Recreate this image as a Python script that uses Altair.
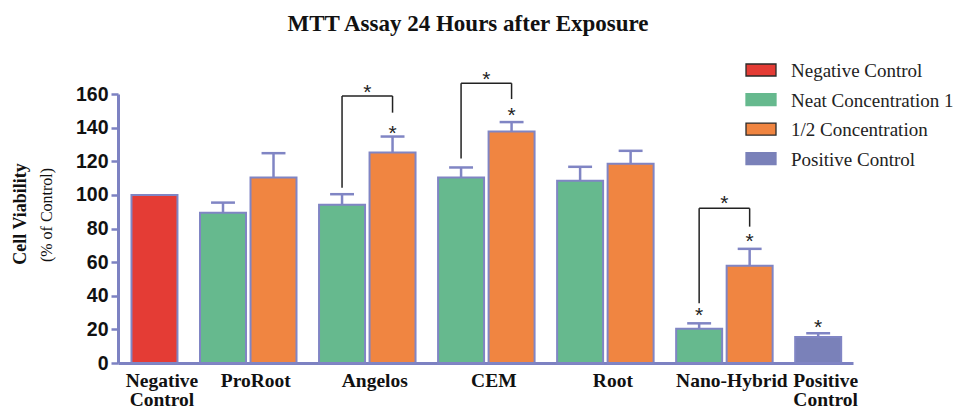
import altair as alt
import pandas as pd

# ---------------- data ----------------
title_text = "MTT Assay 24 Hours after Exposure"
y_title_main = "Cell Viability"
y_title_sub = "(% of Control)"

groups = ["Negative Control", "ProRoot", "Angelos", "CEM", "Root", "Nano-Hybrid", "Positive Control"]
group_labels = ["Negative|Control", "ProRoot", "Angelos", "CEM", "Root", "Nano-Hybrid", "Positive|Control"]

series_names = ["Negative Control", "Neat Concentration 1", "1/2 Concentration", "Positive Control"]
series_colors = ["#e43c35", "#66b98e", "#f08541", "#7a81b9"]
legend_strokes = ["#2a2a2a", "#66b98e", "#2a2a2a", "#7a81b9"]

bar_group = ["Negative Control", "ProRoot", "ProRoot", "Angelos", "Angelos", "CEM", "CEM",
             "Root", "Root", "Nano-Hybrid", "Nano-Hybrid", "Positive Control"]
bar_series = ["Negative Control",
              "Neat Concentration 1", "1/2 Concentration",
              "Neat Concentration 1", "1/2 Concentration",
              "Neat Concentration 1", "1/2 Concentration",
              "Neat Concentration 1", "1/2 Concentration",
              "Neat Concentration 1", "1/2 Concentration",
              "Positive Control"]
bar_mean = [100.0, 89.3, 110.3, 94.1, 125.2, 110.3, 137.7, 108.4, 118.5, 20.4, 57.8, 15.5]
bar_sem = [0.0, 6.1, 14.5, 6.3, 9.5, 6.0, 5.6, 8.3, 7.7, 3.2, 10.1, 2.2]

# significance brackets (neat vs 1/2 within group)
bracket_group = ["Angelos", "CEM", "Nano-Hybrid"]
bracket_left_y = [104.3, 121.7, 35.5]
bracket_right_y = [148.9, 157.0, 81.1]
bracket_top_y = [158.8, 166.4, 92.0]
bracket_star_y = [164.3, 171.9, 98.0]

# stars above single bars
star_group = ["Angelos", "CEM", "Nano-Hybrid", "Nano-Hybrid", "Positive Control"]
star_series = ["1/2 Concentration", "1/2 Concentration", "Neat Concentration 1",
               "1/2 Concentration", "Positive Control"]
star_y = [140.0, 150.5, 31.5, 75.5, 24.6]

y_ticks = [0, 20, 40, 60, 80, 100, 120, 140, 160]

# ---------------- layout (bar width = 1 unit) ----------------
LEAD = 0.293
PAIR_GAP = 0.098
GROUP_GAP = 0.49
X_MAX = 15.98
CAP = 0.26

lefts = []
for i, g in enumerate(bar_group):
    if i == 0:
        lefts.append(LEAD)
    elif bar_group[i - 1] == g:
        lefts.append(lefts[-1] + 1 + PAIR_GAP)
    else:
        lefts.append(lefts[-1] + 1 + GROUP_GAP)

bars = pd.DataFrame({
    "group": bar_group,
    "series": bar_series,
    "mean": bar_mean,
    "sem": bar_sem,
    "left": lefts,
})
bars["right"] = bars["left"] + 1
bars["center"] = bars["left"] + 0.5
bars["top"] = bars["mean"] + bars["sem"]
bars["cap_l"] = bars["center"] - CAP
bars["cap_r"] = bars["center"] + CAP

centers = {(g, s): c for g, s, c in zip(bar_group, bar_series, bars["center"])}
group_center = [float(bars.loc[bars["group"] == g, "center"].mean()) for g in groups]

errs = bars[bars["sem"] > 0]

seg_rows = []
star_rows = []
for g, ly, ry, ty, sy in zip(bracket_group, bracket_left_y, bracket_right_y, bracket_top_y, bracket_star_y):
    xl = centers[(g, "Neat Concentration 1")]
    xr = centers[(g, "1/2 Concentration")]
    seg_rows.append({"x": xl, "x2": xl, "y": ly, "y2": ty})
    seg_rows.append({"x": xl, "x2": xr, "y": ty, "y2": ty})
    seg_rows.append({"x": xr, "x2": xr, "y": ry, "y2": ty})
    star_rows.append({"x": (xl + xr) / 2, "y": sy})
for g, s, y in zip(star_group, star_series, star_y):
    star_rows.append({"x": centers[(g, s)], "y": y})
segs = pd.DataFrame(seg_rows)
stars = pd.DataFrame(star_rows)

legend_df = pd.DataFrame({"series": series_names})

# x-axis label expression (multi-line)
expr = "''"
for i in range(len(groups) - 1, -1, -1):
    parts = ", ".join("'" + p + "'" for p in group_labels[i].split("|"))
    if i == len(groups) - 1:
        expr = "[" + parts + "]"
    else:
        thr = (group_center[i] + group_center[i + 1]) / 2
        expr = f"datum.value < {thr:.4f} ? [{parts}] : ({expr})"

AXIS_COL = "#7d82c2"
BAR_STROKE = "#8085c4"
RECT_PATH = "M-1.25,-0.5L1.25,-0.5L1.25,0.5L-1.25,0.5Z"

x_scale = alt.Scale(domain=[0, X_MAX], nice=False, zero=False)
y_scale = alt.Scale(domain=[0, 160], nice=False)

x_axis = alt.Axis(values=group_center, labelExpr=expr, title=None, grid=False, ticks=False,
                  tickSize=0, domainColor=AXIS_COL, domainWidth=3,
                  labelFont="Liberation Serif", labelFontWeight="bold", labelFontSize=19.5,
                  labelColor="#111111", labelPadding=8, labelLineHeight=19.5, labelOffset=7,
                  labelOverlap=False, labelFlush=False)
y_axis = alt.Axis(values=y_ticks, title=None, grid=False, domainColor=AXIS_COL, domainWidth=3,
                  tickColor=AXIS_COL, tickWidth=2.5, tickSize=7,
                  labelFont="Liberation Sans", labelFontWeight="bold", labelFontSize=19.5,
                  labelColor="#111111", labelPadding=3, labelOverlap=False, labelFlush=False)

bar_layer = alt.Chart(bars).mark_rect(stroke=BAR_STROKE, strokeWidth=2).encode(
    x=alt.X("left:Q", scale=x_scale, axis=x_axis),
    x2="right:Q",
    y=alt.Y("mean:Q", scale=y_scale, axis=y_axis),
    y2=alt.datum(0),
    color=alt.Color("series:N", scale=alt.Scale(domain=series_names, range=series_colors), legend=None),
)

err_stem = alt.Chart(errs).mark_rule(color=BAR_STROKE, strokeWidth=2.5).encode(
    x="center:Q",
    y=alt.Y("mean:Q", scale=y_scale, axis=None), y2="top:Q")
err_cap = alt.Chart(errs).mark_rule(color=BAR_STROKE, strokeWidth=2.5).encode(
    x="cap_l:Q", x2="cap_r:Q",
    y=alt.Y("top:Q", scale=y_scale, axis=None))

bracket_layer = alt.Chart(segs).mark_rule(color="#222222", strokeWidth=1.5).encode(
    x="x:Q", x2="x2:Q",
    y=alt.Y("y:Q", scale=y_scale, axis=None), y2="y2:Q")

star_layer = alt.Chart(stars).mark_text(text="*", font="Liberation Sans", fontSize=21,
                                        baseline="alphabetic", dy=12, color="#222222").encode(
    x="x:Q",
    y=alt.Y("y:Q", scale=y_scale, axis=None))

# legend drawn as marks (symbols with per-entry borders)
legend_y = alt.Y("series:N", scale=alt.Scale(type="point", domain=series_names, range=[-24, 64.7], padding=0),
                 axis=None)
legend_sym = alt.Chart(legend_df).mark_point(shape=RECT_PATH, filled=True, size=576, strokeWidth=1.3,
                                             opacity=1).encode(
    x=alt.value(643),
    y=legend_y,
    fill=alt.Fill("series:N", scale=alt.Scale(domain=series_names, range=series_colors), legend=None),
    stroke=alt.Stroke("series:N", scale=alt.Scale(domain=series_names, range=legend_strokes), legend=None),
)
legend_txt = alt.Chart(legend_df).mark_text(align="left", baseline="middle", font="Liberation Serif",
                                            fontSize=19, color="#222222", dy=1).encode(
    x=alt.value(673), y=legend_y, text="series:N")

title_layer = alt.Chart(pd.DataFrame({"t": [title_text]})).mark_text(
    font="Liberation Serif", fontWeight="bold", fontSize=23, align="center", baseline="alphabetic",
    color="#111111").encode(text="t:N", x=alt.value(350), y=alt.value(-63))

ytitle1 = alt.Chart(pd.DataFrame({"t": [y_title_main]})).mark_text(
    font="Liberation Serif", fontWeight="bold", fontSize=18, angle=270,
    align="center", baseline="middle", color="#111111").encode(
    text="t:N", x=alt.value(-97), y=alt.value(120))
ytitle2 = alt.Chart(pd.DataFrame({"t": [y_title_sub]})).mark_text(
    font="Liberation Serif", fontSize=16, angle=270,
    align="center", baseline="middle", color="#111111").encode(
    text="t:N", x=alt.value(-71), y=alt.value(121))

chart = alt.layer(bar_layer, err_stem, err_cap, bracket_layer, star_layer, legend_sym, legend_txt,
                  title_layer, ytitle1, ytitle2).resolve_scale(y="independent").properties(
    width=735, height=269,
    padding={"left": 110, "top": 86, "right": 100, "bottom": 46},
    autosize=alt.AutoSizeParams(type="none"),
    background="white",
).configure_view(stroke="transparent", strokeWidth=0)

chart.save("out.html", embed_options={"renderer": "svg", "actions": False})
